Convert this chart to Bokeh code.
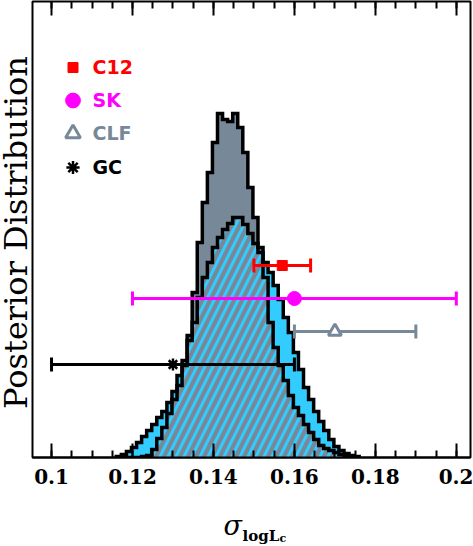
import numpy as np
from bokeh.plotting import figure
from bokeh.layouts import row, column
from bokeh.models import LinearAxis, FixedTicker, Legend, LegendItem, Label, ColumnDataSource
from bokeh.embed import file_html
from bokeh.resources import INLINE

# ---------------- data ----------------
bin_start = 0.116
bin_width = 0.00125
# broad posterior (cyan, hatched)
broad_hist = [1, 3, 6, 10, 15, 21, 27, 33, 40, 46, 55, 66, 82, 97, 117, 135,
              160, 180, 195, 210, 220, 228, 234, 240, 240, 233, 224, 214, 205, 195,
              185, 172, 158, 140, 125, 105, 88, 70, 58, 46, 36, 27, 18, 11, 7, 4, 2, 1]
# narrow posterior (grey)
narrow_hist = [0, 0, 0, 0, 0, 1, 2, 8, 19, 30, 44, 58, 72, 92, 122, 165,
               215, 255, 285, 315, 344, 338, 336, 344, 330, 305, 270, 240, 210, 180,
               135, 110, 92, 77, 62, 50, 42, 33, 25, 18, 12, 9, 7, 5, 3, 1, 0, 0]

names = ["C12", "SK", "CLF", "GC"]
centers = [0.157, 0.160, 0.170, 0.130]
lowers = [0.150, 0.120, 0.160, 0.100]
uppers = [0.164, 0.200, 0.190, 0.160]
levels = [192, 159, 126, 93]
colors = ["#FF0000", "#FF00FF", "#778899", "#000000"]
markers = ["square", "circle", "triangle", "asterisk"]

major_ticks = [0.1, 0.12, 0.14, 0.16, 0.18, 0.2]
tick_labels = ["0.1", "0.12", "0.14", "0.16", "0.18", "0.2"]
minor_ticks = [0.1, 0.105, 0.11, 0.115, 0.12, 0.125, 0.13, 0.135, 0.14, 0.145,
               0.15, 0.155, 0.16, 0.165, 0.17, 0.175, 0.18, 0.185, 0.19, 0.195, 0.2]

CYAN = "#33CCFF"
GREY = "#778899"


def step_outline(heights):
    h = np.asarray(heights, float)
    edges = bin_start + bin_width * np.arange(len(h) + 1)
    xs = np.repeat(edges, 2)
    ys = np.concatenate([[0.0], np.repeat(h, 2), [0.0]])
    return xs, ys


def text_panel(w, h):
    f = figure(width=w, height=h, output_backend="svg", toolbar_location=None,
               x_axis_location=None, y_axis_location=None,
               min_border=0, min_border_left=0, min_border_right=0,
               min_border_top=0, min_border_bottom=0)
    f.grid.grid_line_color = None
    f.outline_line_color = None
    f.background_fill_color = "white"
    f.border_fill_color = "white"
    return f


# ---------------- main plot ----------------
p = figure(width=442, height=492, x_range=(0.0953, 0.2035), y_range=(0, 456),
           output_backend="svg", toolbar_location=None, y_axis_location=None,
           min_border_left=1, min_border_right=3, min_border_top=1, min_border_bottom=35)
p.grid.grid_line_color = None
p.outline_line_color = "black"
p.outline_line_width = 2
p.background_fill_color = "white"
p.border_fill_color = "white"

xa, ya = step_outline(broad_hist)
xb, yb = step_outline(narrow_hist)

p.patch(xa, ya, fill_color=CYAN, line_color=None)
p.patch(xb, yb, fill_color=GREY, line_color=None)
p.patch(xa, ya, fill_alpha=0, line_color=None, hatch_pattern="/",
        hatch_color=CYAN, hatch_weight=3, hatch_scale=16)
p.line(xa, ya, line_color="black", line_width=3.5, line_join="miter")
p.line(xb, yb, line_color="black", line_width=3.5, line_join="miter")

# error bars
src = ColumnDataSource(dict(lo=lowers, hi=uppers, y=levels, color=colors))
p.segment(x0="lo", x1="hi", y0="y", y1="y", line_color="color", line_width=3, source=src)
p.scatter(x=lowers + uppers, y=levels + levels, marker="dash", angle=np.pi / 2,
          size=14, line_color=colors + colors, line_width=3)

sizes = [10, 14, 13, 12]
fills = [colors[0], colors[1], "white", colors[3]]
lws = [1, 1, 3, 2.5]
renderers = []
for i in range(4):
    r = p.scatter(x=[centers[i]], y=[levels[i]], marker=markers[i], size=sizes[i],
                  fill_color=fills[i], line_color=colors[i], line_width=lws[i])
    renderers.append(r)

# legends (one per entry to colour the labels)
row_centres = [390, 357, 324, 290]
glyph_w = [25, 37, 37, 33]
for i in range(4):
    W = glyph_w[i]
    leg = Legend(items=[LegendItem(label=names[i], renderers=[renderers[i]])],
                 location=(40 - W / 2, row_centres[i] - 19),
                 glyph_width=W, glyph_height=38, label_standoff=int(round(20 - W / 2)),
                 padding=0, margin=0, spacing=0, border_line_color=None,
                 background_fill_alpha=0, label_text_font="DejaVu Sans",
                 label_text_font_style="bold", label_text_font_size="19px",
                 label_text_color=colors[i])
    p.add_layout(leg)

# axes
bx = p.below[0]
bx.ticker = FixedTicker(ticks=major_ticks, minor_ticks=minor_ticks)
bx.major_label_overrides = {t: s for t, s in zip(major_ticks, tick_labels)}
bx.major_tick_in = 14
bx.major_tick_out = 0
bx.minor_tick_in = 7
bx.minor_tick_out = 0
bx.major_tick_line_width = 2
bx.minor_tick_line_width = 2
bx.axis_line_width = 2
bx.major_label_standoff = 11
bx.major_label_text_font = "DejaVu Serif"
bx.major_label_text_font_style = "bold"
bx.major_label_text_font_size = "20px"
bx.major_label_text_color = "black"

top = LinearAxis(ticker=FixedTicker(ticks=major_ticks, minor_ticks=minor_ticks),
                 major_label_text_font_size="0px", major_label_text_color=None,
                 major_label_standoff=0,
                 major_tick_in=14, major_tick_out=0, minor_tick_in=7, minor_tick_out=0,
                 major_tick_line_width=2, minor_tick_line_width=2, axis_line_color=None)
p.add_layout(top, "above")

# ---------------- title panels ----------------
left = text_panel(31, 546)
left.add_layout(Label(x=15, y=314, x_units="screen", y_units="screen",
                      text="Posterior Distribution", angle=np.pi / 2,
                      text_align="center", text_baseline="alphabetic",
                      text_color="black",
                      text_font="DejaVu Serif", text_font_size="32px"))

bottom = text_panel(442, 54)
bottom.add_layout(Label(x=191, y=21, x_units="screen", y_units="screen", text="σ",
                        text_color="black",
                        text_font="DejaVu Serif", text_font_style="italic",
                        text_font_size="27px", text_baseline="alphabetic"))
bottom.add_layout(Label(x=210, y=11, x_units="screen", y_units="screen", text="logL",
                        text_color="black",
                        text_font="DejaVu Serif", text_font_style="bold",
                        text_font_size="15px", text_baseline="alphabetic"))
bottom.add_layout(Label(x=247, y=8, x_units="screen", y_units="screen", text="c",
                        text_color="black",
                        text_font="DejaVu Serif", text_font_style="bold",
                        text_font_size="11px", text_baseline="alphabetic"))

layout = row(left, column(p, bottom))
open("out.html", "w").write(file_html(layout, INLINE))
